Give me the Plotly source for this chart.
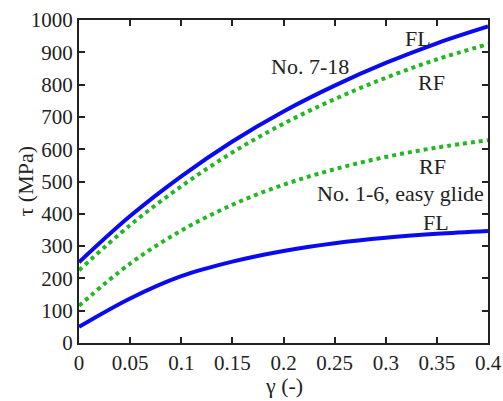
import plotly.graph_objects as go

gamma = [0.0, 0.05, 0.1, 0.15, 0.2, 0.25, 0.3, 0.35, 0.4]
fl_7_18 = [250, 393, 516, 624, 717, 797, 867, 928, 980]
rf_7_18 = [225, 365, 485, 590, 679, 755, 821, 878, 925]
rf_1_6 = [115, 246, 348, 428, 490, 538, 576, 605, 628]
fl_1_6 = [50, 138, 207, 252, 285, 309, 326, 338, 347]

labels = ["FL", "No. 7-18", "RF", "RF", "No. 1-6, easy glide", "FL"]
label_x = [0.332, 0.226, 0.345, 0.346, 0.314, 0.349]
label_y = [944, 857, 805, 548, 464, 372]

BLUE = "#0a0af0"
GREEN = "#22b822"
FONT = "Liberation Serif"
TXT = "#222"

fig = go.Figure()
for ys, col, dash in [(fl_7_18, BLUE, "solid"), (rf_7_18, GREEN, "dot"),
                      (rf_1_6, GREEN, "dot"), (fl_1_6, BLUE, "solid")]:
    fig.add_trace(go.Scatter(x=gamma, y=ys, mode="lines",
                             line=dict(color=col, width=4, dash=dash, shape="spline"),
                             showlegend=False))

for t, x, y in zip(labels, label_x, label_y):
    fig.add_annotation(x=x, y=y, text=t, showarrow=False,
                       font=dict(family=FONT, size=22, color=TXT))

# axis titles
fig.add_annotation(xref="paper", yref="paper", x=0.5, y=0, yshift=-42,
                   text="γ (-)", showarrow=False, yanchor="middle",
                   font=dict(family=FONT, size=22, color=TXT))
fig.add_annotation(xref="paper", yref="paper", x=0, y=0.5, xshift=-54,
                   text="τ (MPa)", showarrow=False, textangle=-90, xanchor="center",
                   font=dict(family=FONT, size=22, color=TXT))

axis_common = dict(showgrid=False, zeroline=False, showline=True, linecolor=TXT,
                   linewidth=2, mirror="ticks", ticks="inside", ticklen=6,
                   tickwidth=1.5, tickcolor=TXT, automargin=False,
                   tickfont=dict(family=FONT, size=21, color=TXT))

fig.update_layout(
    width=503, height=401,
    margin=dict(l=79, r=15, t=20, b=58, autoexpand=False),
    paper_bgcolor="white", plot_bgcolor="white",
    xaxis=dict(range=[0, 0.4], tickvals=[0, 0.05, 0.1, 0.15, 0.2, 0.25, 0.3, 0.35, 0.4],
               ticktext=["0", "0.05", "0.1", "0.15", "0.2", "0.25", "0.3", "0.35", "0.4"],
               **axis_common),
    yaxis=dict(range=[0, 1000], tickvals=list(range(0, 1001, 100)),
               **axis_common),
)

fig.write_html("out.html", config={"displayModeBar": False},
               post_script="document.body.style.margin='0';")
